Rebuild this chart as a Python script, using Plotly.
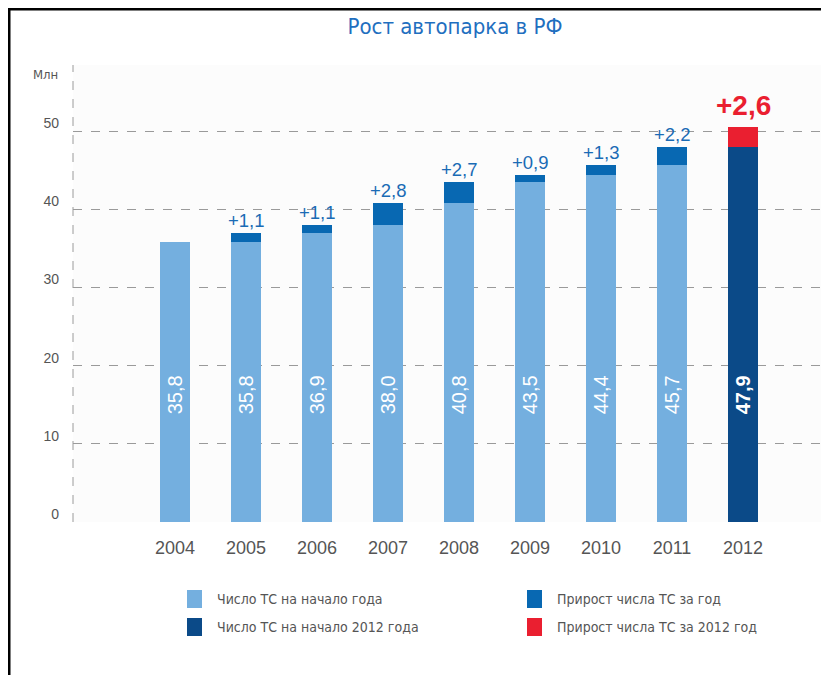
import plotly.graph_objects as go

years = ["2004", "2005", "2006", "2007", "2008", "2009", "2010", "2011", "2012"]
base_values = [35.8, 35.8, 36.9, 38.0, 40.8, 43.5, 44.4, 45.7, 47.9]
increments = [None, 1.1, 1.1, 2.8, 2.7, 0.9, 1.3, 2.2, 2.6]
base_labels = ["35,8", "35,8", "36,9", "38,0", "40,8", "43,5", "44,4", "45,7", "47,9"]
inc_labels = ["", "+1,1", "+1,1", "+2,8", "+2,7", "+0,9", "+1,3", "+2,2", "+2,6"]
y_ticks = [0, 10, 20, 30, 40, 50]

names = ["Число ТС на начало года", "Прирост числа ТС за год",
         "Число ТС на начало 2012 года", "Прирост числа ТС за 2012 год"]

C_LIGHT = "#74afdf"
C_MID = "#0868b2"
C_DARK = "#0b4a88"
C_RED = "#ea1f30"
colors = [C_LIGHT, C_MID, C_DARK, C_RED]

last = len(years) - 1
light = [v if i < last else None for i, v in enumerate(base_values)]
mid = [v if i < last else None for i, v in enumerate(increments)]
dark = [v if i == last else None for i, v in enumerate(base_values)]
red = [v if i == last else None for i, v in enumerate(increments)]

# page is drawn with an 8px body offset; the layout below is expressed in screen pixels
OFF = 8
PL, PT, PB = 73, 65, 522          # plot left / top / bottom in screen px
FIG_W, FIG_H = 829, 675
PW = FIG_W - (PL - OFF)           # plot width (right margin 0)
PH = PB - PT


def px(sx):
    return (sx - PL) / PW


def py(sy):
    return (PB - sy) / PH


fig = go.Figure()
W = 0.42
for vals, name, col in zip([light, mid, dark, red], names, colors):
    fig.add_trace(go.Bar(x=years, y=vals, name=name, marker_color=col, width=W,
                         marker_line_width=0, showlegend=False))

LABEL_FONT = "Liberation Sans, Arial, sans-serif"
NARROW = "Liberation Sans Narrow, DejaVu Sans Condensed, Roboto, sans-serif"

# labels inside bars
for i, lab in enumerate(base_labels):
    txt = "<b>" + lab + "</b>" if i == last else lab
    fig.add_annotation(x=i, y=16.2, text=txt, showarrow=False, textangle=-90,
                       font=dict(family=LABEL_FONT, size=20, color="white"),
                       yanchor="middle", xanchor="center")
# increment labels
for i, (b, inc, lab) in enumerate(zip(base_values, increments, inc_labels)):
    if inc is None:
        continue
    top = b + inc
    if i == last:
        fig.add_annotation(x=i, y=top, text="<b>" + lab + "</b>", showarrow=False,
                           font=dict(family=LABEL_FONT, size=28, color=C_RED),
                           yanchor="bottom", yshift=4)
    else:
        fig.add_annotation(x=i, y=top, text=lab, showarrow=False,
                           font=dict(family=LABEL_FONT, size=18.5, color="#1a6bb5"),
                           yanchor="bottom", yshift=0)

# Млн unit
fig.add_annotation(xref="paper", yref="paper", x=px(45), y=py(74), text="Млн", showarrow=False,
                   xanchor="center", yanchor="middle",
                   font=dict(family=NARROW, size=13, color="#555555"))

# manual legend
leg_cols = [(187, 202, 215), (527, 542, 555)]
leg_rows = [(590, 608, 599), (618, 636, 627)]
order = [(0, 0, 0), (1, 1, 0), (2, 0, 1), (3, 1, 1)]
for k, c, r in order:
    x0, x1, tx = leg_cols[c]
    y0, y1, ty = leg_rows[r]
    fig.add_shape(type="rect", xref="paper", yref="paper", x0=px(x0), x1=px(x1),
                  y0=py(y1), y1=py(y0), fillcolor=colors[k], line_width=0)
    fig.add_annotation(xref="paper", yref="paper", x=px(tx), y=py(ty), text=names[k],
                       showarrow=False, xanchor="left", yanchor="middle",
                       font=dict(family=NARROW, size=14, color="#555555"))

# dashed y-axis line
fig.add_shape(type="line", xref="paper", yref="paper", x0=0, x1=0, y0=0, y1=1,
              line=dict(color="#9a9a9a", width=1, dash="dash"))
# black frame lines
fig.add_shape(type="line", xref="paper", yref="paper", x0=px(9), x1=1.02, y0=py(9), y1=py(9),
              line=dict(color="black", width=3))
fig.add_shape(type="line", xref="paper", yref="paper", x0=px(9), x1=px(9), y0=py(8), y1=py(690),
              line=dict(color="black", width=3))

fig.update_layout(
    width=FIG_W, height=FIG_H,
    margin=dict(l=PL - OFF, r=0, t=PT - OFF, b=FIG_H - (PB - OFF)),
    barmode="stack",
    paper_bgcolor="white",
    plot_bgcolor="#fcfcfc",
    title=dict(text="Рост автопарка в РФ", x=(455 - OFF) / FIG_W, xanchor="center", xref="container",
               y=1 - (26 - OFF) / FIG_H, yanchor="middle", yref="container",
               font=dict(family=NARROW, size=22, color="#1f6fbf")),
    xaxis=dict(type="category", range=[-1.437, -1.437 + PW / 71.0], showgrid=False, zeroline=False,
               showline=False, ticks="", tickfont=dict(family=LABEL_FONT, size=18, color="#555555"),
               ticklabelstandoff=13),
    yaxis=dict(range=[0, PH / 7.82], tickvals=y_ticks, showgrid=True, gridcolor="#9a9a9a", griddash="dash",
               gridwidth=1, zeroline=False, showline=False, ticks="",
               tickfont=dict(family=LABEL_FONT, size=14, color="#555555"),
               ticklabelstandoff=13, ticklabelshift=-8),
    showlegend=False,
)

fig.write_html("out.html")
